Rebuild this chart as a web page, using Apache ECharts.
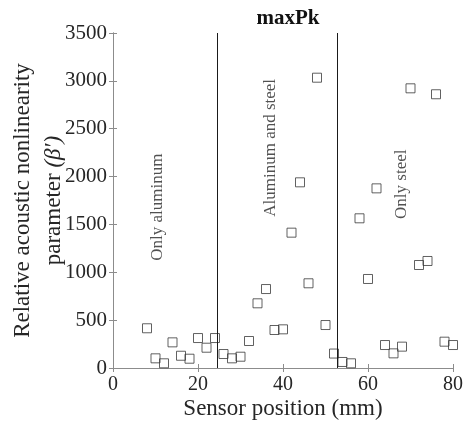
<!DOCTYPE html>
<html>
<head>
<meta charset="utf-8">
<script src="https://cdn.jsdelivr.net/npm/echarts@6/dist/echarts.min.js"></script>
<style>
  html, body { margin: 0; padding: 0; background: #fff; }
  #chart { width: 464px; height: 427px; }
</style>
</head>
<body>
<div id="chart"></div>
<script>
// sensor positions (mm)
const positions = [8, 10, 12, 14, 16, 18, 20, 22, 24, 26, 28, 30, 32, 34, 36, 38, 40, 42, 44,
  46, 48, 50, 52, 54, 56, 58, 60, 62, 64, 66, 68, 70, 72, 74, 76, 78, 80];
// relative acoustic nonlinearity parameter
const beta = [415, 101, 49, 268, 128, 97, 313, 212, 313, 146, 101, 118, 282, 676, 825, 397, 404, 1414, 1940,
  885, 3033, 449, 151, 63, 49, 1564, 930, 1877, 240, 153, 223, 2922, 1076, 1118, 2860, 275, 240];
// region boundaries (mm)
const boundaries = [24.6, 52.8];
// region annotations: [x, y, text]
const regionNotes = [
  [10.4, 1680, 'Only aluminum'],
  [37.0, 2300, 'Aluminum and steel'],
  [68.0, 1920, 'Only steel'],
];

const serif = '"Liberation Serif", "DejaVu Serif", serif';
const boxColor = '#8c8c8c';
const textColor = '#262626';
const plain = (v) => String(v);

const chart = echarts.init(document.getElementById('chart'));

const option = {
  animation: false,
  title: {
    text: 'maxPk',
    left: 283,
    top: 3,
    textAlign: 'center',
    textStyle: { fontFamily: serif, fontWeight: 'bold', fontSize: 21, color: '#111' },
  },
  grid: { left: 113, right: 11, top: 33, bottom: 59, containLabel: false, outerBoundsMode: 'none' },
  xAxis: [
    {
      type: 'value',
      min: 0,
      max: 80,
      interval: 20,
      name: 'Sensor position (mm)',
      nameLocation: 'middle',
      nameGap: 29,
      nameMoveOverlap: false,
      nameTextStyle: { fontFamily: serif, fontSize: 23, color: textColor },
      axisLine: { show: true, lineStyle: { color: boxColor, width: 1 } },
      axisTick: { inside: true, length: 4, lineStyle: { color: boxColor } },
      axisLabel: { fontFamily: serif, fontSize: 20, color: textColor, margin: 7, formatter: plain },
      splitLine: { show: false },
    },
    {
      type: 'value',
      position: 'top',
      min: 0,
      max: 80,
      interval: 20,
      axisLine: { show: true, lineStyle: { color: boxColor, width: 1 } },
      axisTick: { inside: true, length: 4, lineStyle: { color: boxColor } },
      axisLabel: { show: false },
      splitLine: { show: false },
    },
  ],
  yAxis: [
    {
      type: 'value',
      min: 0,
      max: 3500,
      interval: 500,
      name: 'Relative acoustic nonlinearity\nparameter {it|(β′)}',
      nameLocation: 'middle',
      nameRotate: 90,
      nameGap: 44,
      nameMoveOverlap: false,
      nameTextStyle: {
        fontFamily: serif, fontSize: 23, color: textColor, lineHeight: 31, align: 'center',
        rich: { it: { fontFamily: serif, fontSize: 23, fontStyle: 'italic', color: textColor } },
      },
      axisLine: { show: true, lineStyle: { color: boxColor, width: 1 } },
      axisTick: { inside: true, length: 4, lineStyle: { color: boxColor } },
      axisLabel: { fontFamily: serif, fontSize: 21, color: textColor, margin: 6, formatter: plain },
      splitLine: { show: false },
    },
    {
      type: 'value',
      position: 'right',
      min: 0,
      max: 3500,
      interval: 500,
      axisLine: { show: true, lineStyle: { color: boxColor, width: 1 } },
      axisTick: { inside: true, length: 4, lineStyle: { color: boxColor } },
      axisLabel: { show: false },
      splitLine: { show: false },
    },
  ],
  series: [
    {
      type: 'scatter',
      data: positions.map((x, i) => [x, beta[i]]),
      symbol: 'rect',
      symbolSize: 9,
      itemStyle: { color: 'rgba(0,0,0,0)', borderColor: '#3a3a3a', borderWidth: 1 },
      markLine: {
        silent: true,
        symbol: 'none',
        label: { show: false },
        lineStyle: { color: '#1a1a1a', width: 1, type: 'solid' },
        data: boundaries.map((b) => ({ xAxis: b })),
      },
    },
    {
      type: 'scatter',
      data: regionNotes.map((n) => ({ value: [n[0], n[1]], name: n[2] })),
      symbolSize: 0,
      silent: true,
      label: {
        show: true,
        position: 'inside',
        rotate: 90,
        formatter: (p) => p.name,
        fontFamily: serif,
        fontSize: 17,
        color: textColor,
      },
    },
  ],
};

chart.setOption(option);
</script>
</body>
</html>
